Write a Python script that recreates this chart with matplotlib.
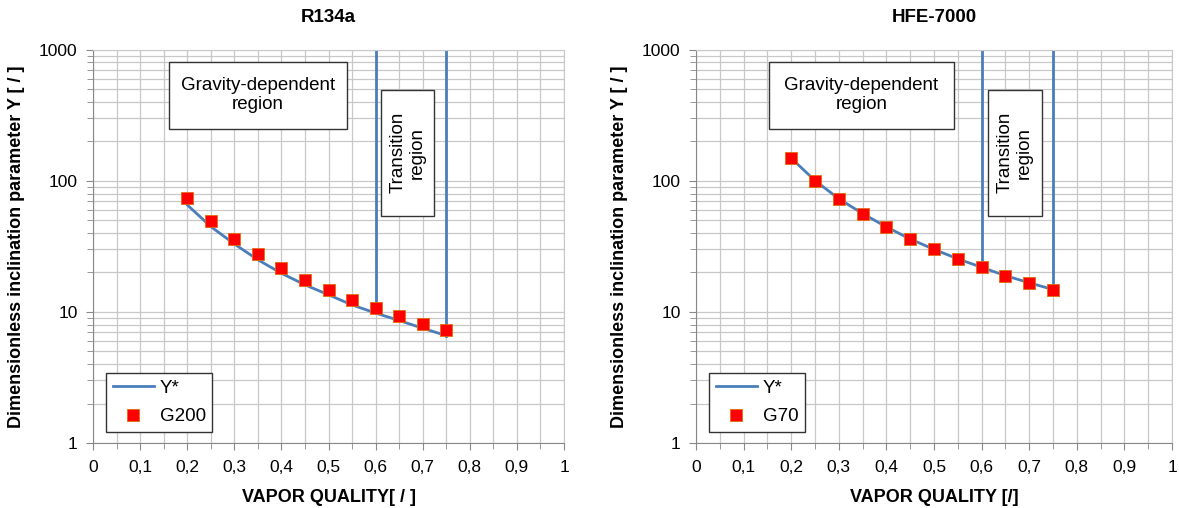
import numpy as np
import matplotlib
matplotlib.use('Agg')
import matplotlib.pyplot as plt
import matplotlib.transforms as mtransforms
from matplotlib.patches import Rectangle
from matplotlib.ticker import FixedLocator, LogLocator, NullFormatter

plt.rcParams['font.family'] = ['Liberation Sans', 'DejaVu Sans']

quality = [0.2, 0.25, 0.3, 0.35, 0.4, 0.45, 0.5, 0.55, 0.6, 0.65, 0.7, 0.75]

# R134a
ystar_r134a = [65.6, 44.8, 33.0, 25.0, 19.7, 16.1, 13.5, 11.3, 9.8, 8.6, 7.5, 6.6]
g200 = [74, 49.5, 36, 27.7, 21.7, 17.5, 14.7, 12.4, 10.7, 9.3, 8.1, 7.3]

# HFE-7000
ystar_hfe = [149, 100.5, 73, 56.3, 44.5, 36, 30, 25.4, 21.9, 18.9, 16.7, 14.8]
g70 = [149, 100.5, 73, 56.3, 44.5, 36, 30, 25.4, 21.9, 18.9, 16.7, 14.8]

transition_x = [0.6, 0.75]
xtick_vals = [0, 0.1, 0.2, 0.3, 0.4, 0.5, 0.6, 0.7, 0.8, 0.9, 1.0]
xtick_labels = ['0', '0,1', '0,2', '0,3', '0,4', '0,5', '0,6', '0,7', '0,8', '0,9', '1']

blue = '#4a7ebb'
red = '#ff0000'
grid_c = '#c8c8c8'

fig = plt.figure(figsize=(11.79, 5.08), dpi=100)
ax1 = fig.add_axes([0.0789, 0.128, 0.3995, 0.774])
ax2 = fig.add_axes([0.5903, 0.128, 0.4038, 0.774])


def draw(ax, title, xlabel, ystar, meas, meas_label, gbox, tbox):
    ax.set_yscale('log')
    ax.set_xlim(0, 1)
    ax.set_ylim(1, 1000)
    ax.set_xticks(xtick_vals)
    ax.set_xticklabels(xtick_labels)
    ax.xaxis.set_minor_locator(FixedLocator(np.arange(0.05, 1.0, 0.1)))
    ax.set_yticks([1, 10, 100, 1000])
    ax.set_yticklabels(['1', '10', '100', '1000'])
    ax.yaxis.set_minor_locator(LogLocator(base=10, subs=np.arange(2, 10)))
    ax.yaxis.set_minor_formatter(NullFormatter())
    ax.grid(True, which='both', color=grid_c, lw=0.9)
    ax.set_axisbelow(True)
    for s in ax.spines.values():
        s.set_color(grid_c)
    ax.spines['left'].set_color('#888888')
    ax.spines['bottom'].set_color('#888888')
    ax.tick_params(which='both', direction='out', color='#888888', labelsize=12.5)
    ax.tick_params(which='major', length=5)
    ax.tick_params(which='minor', length=4)
    ax.tick_params(axis='x', pad=7)
    ax.tick_params(axis='y', pad=6)

    idx = [quality.index(v) for v in transition_x]
    for i in idx:
        ax.plot([quality[i], quality[i]], [ystar[i], 1000], color=blue, lw=2, zorder=2)
    ax.plot(quality, ystar, color=blue, lw=2, label='Y*', zorder=3)
    ax.plot(quality, meas, ls='none', marker='s', ms=8.5, mfc=red, mec='#e46c0a',
            mew=0.6, label=meas_label, zorder=4)

    tr = mtransforms.blended_transform_factory(ax.transData, ax.transAxes)
    x0, x1, y0, y1 = gbox
    ax.add_patch(Rectangle((x0, y0), x1 - x0, y1 - y0, transform=tr, fc='white',
                           ec='#333333', lw=1, zorder=5))
    ax.text((x0 + x1) / 2, (y0 + y1) / 2, 'Gravity-dependent\nregion', transform=tr,
            ha='center', va='center', fontsize=13.5, zorder=6, linespacing=1.15)
    x0, x1, y0, y1 = tbox
    ax.add_patch(Rectangle((x0, y0), x1 - x0, y1 - y0, transform=tr, fc='white',
                           ec='#333333', lw=1, zorder=5))
    ax.text((x0 + x1) / 2, (y0 + y1) / 2, 'Transition\nregion', transform=tr,
            ha='center', va='center', fontsize=13.5, rotation=90, zorder=6, linespacing=1.15)

    leg = ax.legend(loc='lower left', bbox_to_anchor=(0.028, 0.028), fontsize=13.5,
                    fancybox=False, framealpha=1, edgecolor='#333333',
                    handlelength=2.2, handletextpad=0.3, borderpad=0.35,
                    labelspacing=0.6, borderaxespad=0)
    leg.get_frame().set_linewidth(1)
    ax.set_title(title, fontsize=13.5, fontweight='bold', pad=20)
    ax.set_xlabel(xlabel, fontsize=13, fontweight='bold', labelpad=10)
    ax.set_ylabel('Dimensionless inclination parameter Y [ / ]', fontsize=13,
                  fontweight='bold', labelpad=10)


draw(ax1, 'R134a', 'VAPOR QUALITY[ / ]', ystar_r134a, g200, 'G200',
     (0.161, 0.539, 0.799, 0.969), (0.611, 0.724, 0.578, 0.898))
draw(ax2, 'HFE-7000', 'VAPOR QUALITY [/]', ystar_hfe, g70, 'G70',
     (0.153, 0.542, 0.799, 0.969), (0.613, 0.727, 0.578, 0.898))

fig.savefig('out.png', dpi=100)
